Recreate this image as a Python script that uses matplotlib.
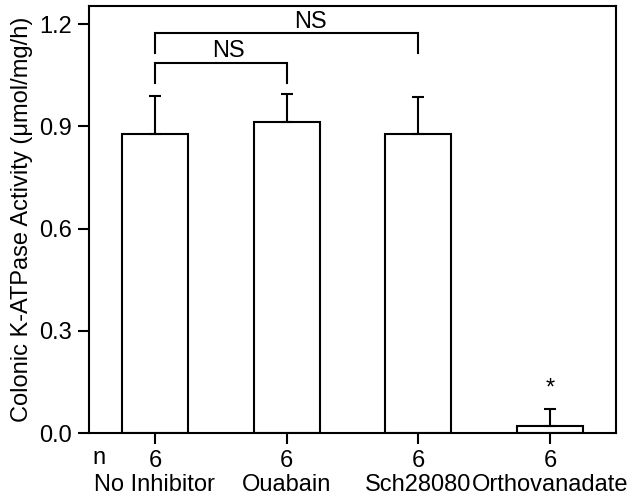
import numpy as np
import matplotlib
matplotlib.use("Agg")
import matplotlib.pyplot as plt
import matplotlib.transforms as mtransforms

plt.rcParams['font.family'] = ['Liberation Sans', 'DejaVu Sans']

# data
groups = ['No Inhibitor', 'Ouabain', 'Sch28080', 'Orthovanadate']
n_vals = [6, 6, 6, 6]
activity = [0.877, 0.913, 0.877, 0.021]
sem = [0.113, 0.082, 0.108, 0.050]
yticks = [0.0, 0.3, 0.6, 0.9, 1.2]

fs = 17
fig = plt.figure(figsize=(6.35, 4.98), dpi=100)
ax = fig.add_axes([89 / 635, 1 - 433 / 498, (616 - 89) / 635, (433 - 6) / 498])

x = np.arange(len(groups))
lw = 1.5
ax.bar(x, activity, width=0.5, color='white', edgecolor='black', linewidth=lw, zorder=2)
ax.errorbar(x, activity, yerr=[np.zeros(len(sem)), sem], fmt='none', ecolor='black',
            elinewidth=lw, capsize=4, capthick=lw, zorder=3)

ax.set_xlim(-0.5, 3.5)
ax.set_ylim(0, 1.253)
ax.set_yticks(yticks)
ax.set_yticklabels(['%.1f' % v for v in yticks])
ax.set_xticks(x)
ax.set_xticklabels([str(n) for n in n_vals])
ax.tick_params(axis='both', direction='out', length=8, width=lw, labelsize=fs, pad=4)

for s in ax.spines.values():
    s.set_linewidth(lw)

ax.set_ylabel('Colonic K-ATPase Activity (\u03bcmol/mg/h)', fontsize=17, labelpad=5)

# group names under the n row, and the "n" row label
trans = mtransforms.blended_transform_factory(ax.transData, ax.transAxes)
for xi, g in zip(x, groups):
    ax.text(xi, -0.122, g, transform=trans, fontsize=fs, ha='center', va='center')
ax.text(0.006, -0.058, 'n', transform=ax.transAxes, fontsize=fs, ha='left', va='center')

# significance brackets
def bracket(x1, x2, y_low, y_top, label, tx, ty):
    ax.plot([x1, x1, x2, x2], [y_low, y_top, y_top, y_low], color='black', lw=lw,
            clip_on=False, solid_joinstyle='miter')
    ax.text(tx, ty, label, ha='center', va='center', fontsize=fs)

bracket(0, 1, 1.027, 1.086, 'NS', 0.56, 1.12)
bracket(0, 2, 1.115, 1.174, 'NS', 1.18, 1.207)

ax.text(3, 0.13, '*', ha='center', va='center', fontsize=fs)

fig.savefig('out.png', dpi=100)
